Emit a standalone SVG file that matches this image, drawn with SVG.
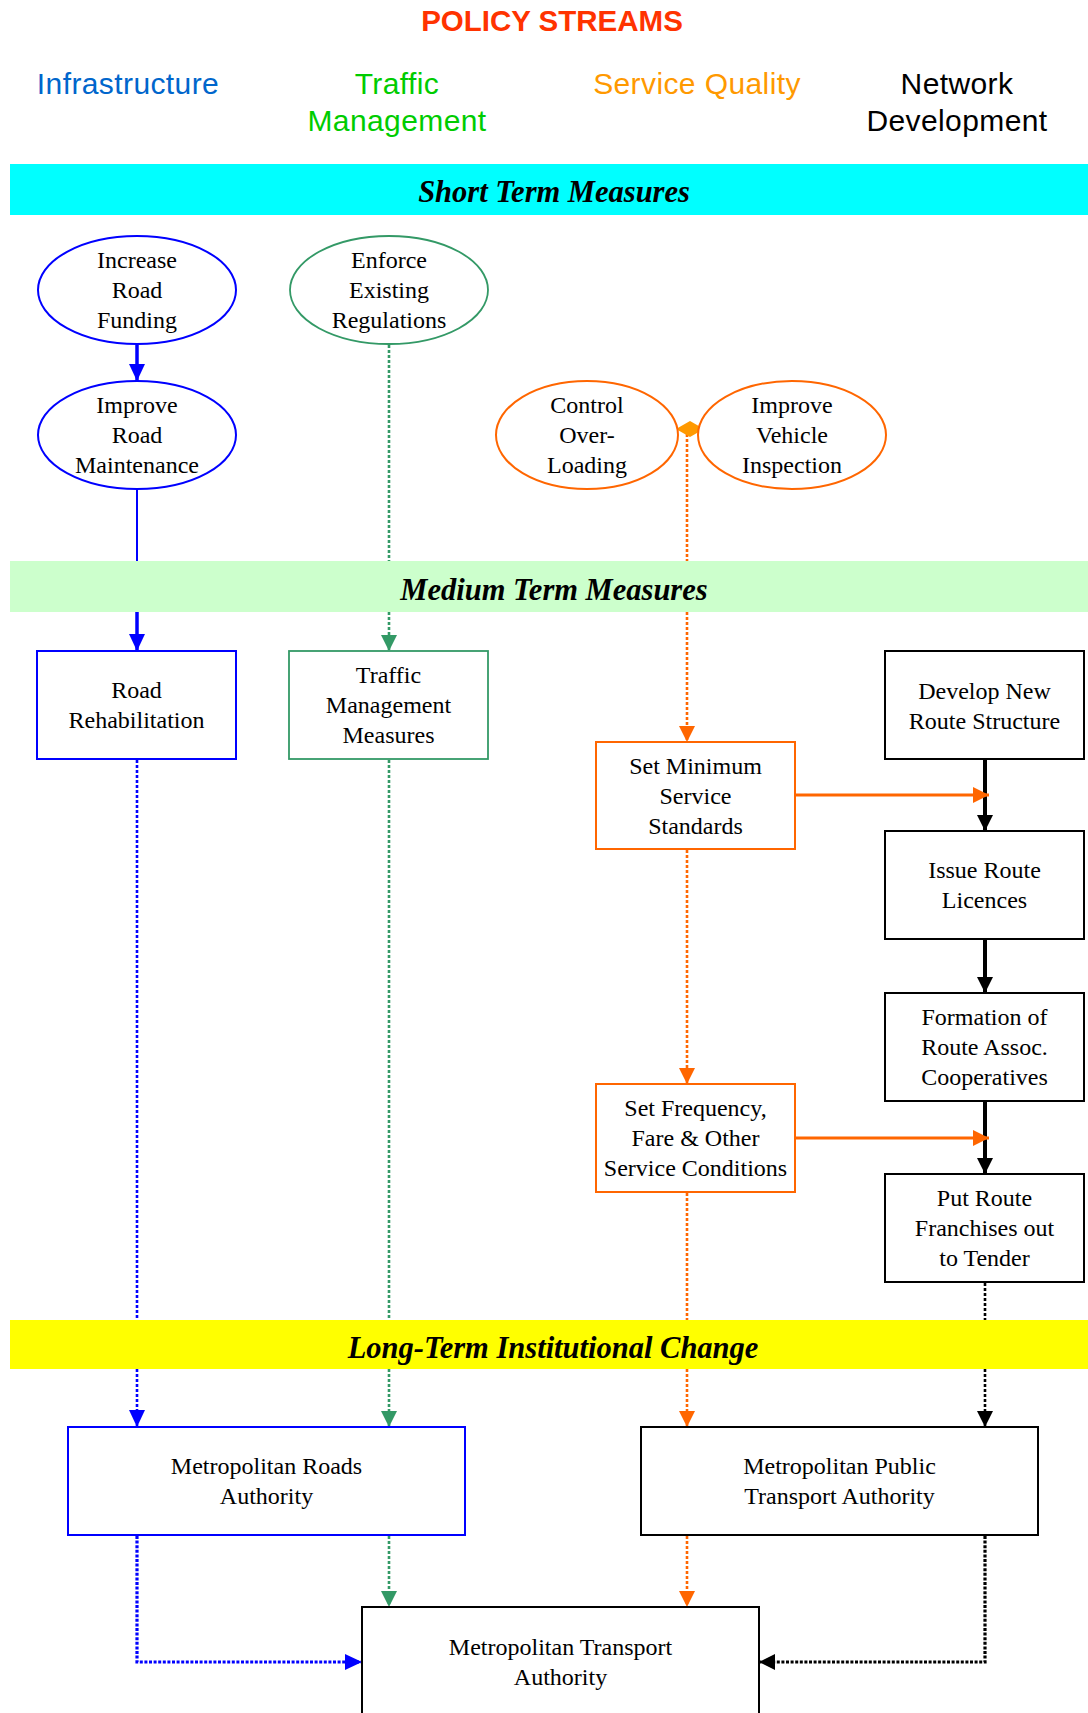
<svg xmlns="http://www.w3.org/2000/svg" width="1088" height="1713" viewBox="0 0 1088 1713">
<defs>
<style>
.title{font-family:"Liberation Sans",Arial,sans-serif;font-size:29.5px;font-weight:bold;fill:#FF3300;text-anchor:middle}
.hdr{font-family:"Liberation Sans",Arial,sans-serif;font-size:30px;text-anchor:middle;letter-spacing:0.4px}
.band{font-family:"Liberation Serif","Times New Roman",serif;font-size:30.5px;font-weight:bold;font-style:italic;text-anchor:middle;fill:#000}
.t{font-family:"Liberation Serif","Times New Roman",serif;font-size:24px;text-anchor:middle;fill:#000}
.blue{fill:#fff;stroke:#0000FF;stroke-width:2}
.green{fill:#fff;stroke:#339966;stroke-width:1.8}
.orange{fill:#fff;stroke:#FF6600;stroke-width:2}
.black{fill:#fff;stroke:#000;stroke-width:2}
.c{fill:none}
.dot{stroke-dasharray:3 2;stroke-width:2.6}
.dotb{stroke-dasharray:3 1.6;stroke-width:3.2}
.cb{stroke:#0000FF}
.cg{stroke:#339966}
.co{stroke:#FF6600}
.ck{stroke:#000}
</style>
<marker id="aBlue" markerUnits="userSpaceOnUse" markerWidth="17" markerHeight="16" viewBox="0 0 17 16" refX="17" refY="8" orient="auto"><path d="M0,0 L17,8 L0,16 Z" fill="#0000FF"/></marker>
<marker id="aGreen" markerUnits="userSpaceOnUse" markerWidth="16" markerHeight="16" viewBox="0 0 16 16" refX="16" refY="8" orient="auto"><path d="M0,0 L16,8 L0,16 Z" fill="#339966"/></marker>
<marker id="aOrange" markerUnits="userSpaceOnUse" markerWidth="16" markerHeight="16" viewBox="0 0 16 16" refX="16" refY="8" orient="auto"><path d="M0,0 L16,8 L0,16 Z" fill="#FF6600"/></marker>
<marker id="aBlack" markerUnits="userSpaceOnUse" markerWidth="16" markerHeight="16" viewBox="0 0 16 16" refX="16" refY="8" orient="auto"><path d="M0,0 L16,8 L0,16 Z" fill="#000"/></marker>
<marker id="diamond" markerUnits="userSpaceOnUse" markerWidth="30" markerHeight="18" viewBox="0 0 30 18" refX="12" refY="9" orient="0"><path d="M1,9 L15,1 L29,9 L15,17 Z" fill="#FF9900"/></marker>
</defs>
<rect width="1088" height="1713" fill="#fff"/>

<g id="title">
<text class="title" x="552" y="31">POLICY STREAMS</text>
</g>
<g id="headers">
<text class="hdr" x="128" y="94" fill="#0066CC" letter-spacing="0.9">Infrastructure</text>
<text class="hdr" x="397" y="94" fill="#00CC00">Traffic</text>
<text class="hdr" x="397" y="131" fill="#00CC00">Management</text>
<text class="hdr" x="697" y="94" fill="#FF9900">Service Quality</text>
<text class="hdr" x="957" y="94" fill="#000">Network</text>
<text class="hdr" x="957" y="131" fill="#000">Development</text>
</g>

<g id="band-short">
<rect x="10" y="164" width="1078" height="51" fill="#00FFFF"/>
<text class="band" x="554" y="202">Short Term Measures</text>
</g>
<g id="band-medium">
<rect x="10" y="561" width="1078" height="51" fill="#CCFFCC"/>
<text class="band" x="554" y="600">Medium Term Measures</text>
</g>
<g id="band-long">
<rect x="10" y="1320" width="1078" height="49" fill="#FFFF00"/>
<text class="band" x="553" y="1358">Long-Term Institutional Change</text>
</g>

<g id="connectors">
<path class="c cb" d="M137,345 V381" stroke-width="3.5" marker-end="url(#aBlue)"/>
<path class="c cb" d="M137,489 V561" stroke-width="2"/>
<path class="c cb" d="M137,612 V651" stroke-width="3.5" marker-end="url(#aBlue)"/>
<path class="c cb dot" d="M137,760 V1320"/>
<path class="c cb dot" d="M137,1369 V1427" marker-end="url(#aBlue)"/>
<path class="c cb dotb" d="M137,1536 V1662 H362" marker-end="url(#aBlue)"/>

<path class="c cg dot" d="M389,345 V561"/>
<path class="c cg dot" d="M389,612 V651" marker-end="url(#aGreen)"/>
<path class="c cg dot" d="M389,760 V1320"/>
<path class="c cg dot" d="M389,1369 V1427" marker-end="url(#aGreen)"/>
<path class="c cg dot" d="M389,1536 V1607" marker-end="url(#aGreen)"/>

<path class="c co dot" d="M687,429 V561" marker-start="url(#diamond)"/>
<path class="c co dot" d="M687,612 V742" marker-end="url(#aOrange)"/>
<path class="c co dot" d="M687,850 V1084" marker-end="url(#aOrange)"/>
<path class="c co dot" d="M687,1193 V1320"/>
<path class="c co dot" d="M687,1369 V1427" marker-end="url(#aOrange)"/>
<path class="c co dot" d="M687,1536 V1607" marker-end="url(#aOrange)"/>

<path class="c ck" d="M985,760 V831" stroke-width="4" marker-end="url(#aBlack)"/>
<path class="c ck" d="M985,940 V993" stroke-width="4" marker-end="url(#aBlack)"/>
<path class="c ck" d="M985,1102 V1174" stroke-width="4" marker-end="url(#aBlack)"/>
<path class="c ck dot" d="M985,1283 V1320"/>
<path class="c ck dot" d="M985,1369 V1427" marker-end="url(#aBlack)"/>
<path class="c ck dotb" d="M985,1536 V1662 H759" marker-end="url(#aBlack)"/>

<path class="c co" d="M795,795 H989" stroke-width="3" marker-end="url(#aOrange)"/>
<path class="c co" d="M795,1138 H989" stroke-width="3" marker-end="url(#aOrange)"/>
</g>

<g id="increase-road-funding">
<ellipse class="blue" cx="137" cy="290" rx="99" ry="54"/>
<text class="t" x="137" y="268">Increase</text>
<text class="t" x="137" y="298">Road</text>
<text class="t" x="137" y="328">Funding</text>
</g>
<g id="improve-road-maintenance">
<ellipse class="blue" cx="137" cy="435" rx="99" ry="54"/>
<text class="t" x="137" y="413">Improve</text>
<text class="t" x="137" y="443">Road</text>
<text class="t" x="137" y="473">Maintenance</text>
</g>
<g id="enforce-existing-regulations">
<ellipse class="green" cx="389" cy="290" rx="99" ry="54"/>
<text class="t" x="389" y="268">Enforce</text>
<text class="t" x="389" y="298">Existing</text>
<text class="t" x="389" y="328">Regulations</text>
</g>
<g id="control-over-loading">
<ellipse class="orange" cx="587" cy="435" rx="91" ry="54"/>
<text class="t" x="587" y="413">Control</text>
<text class="t" x="587" y="443">Over-</text>
<text class="t" x="587" y="473">Loading</text>
</g>
<g id="improve-vehicle-inspection">
<ellipse class="orange" cx="792" cy="435" rx="94" ry="54"/>
<text class="t" x="792" y="413">Improve</text>
<text class="t" x="792" y="443">Vehicle</text>
<text class="t" x="792" y="473">Inspection</text>
</g>

<g id="road-rehabilitation">
<rect class="blue" x="37" y="651" width="199" height="108"/>
<text class="t" x="136.5" y="698">Road</text>
<text class="t" x="136.5" y="728">Rehabilitation</text>
</g>
<g id="traffic-management-measures">
<rect class="green" x="289" y="651" width="199" height="108"/>
<text class="t" x="388.5" y="683">Traffic</text>
<text class="t" x="388.5" y="713">Management</text>
<text class="t" x="388.5" y="743">Measures</text>
</g>
<g id="set-minimum-service-standards">
<rect class="orange" x="596" y="742" width="199" height="107"/>
<text class="t" x="695.5" y="774">Set Minimum</text>
<text class="t" x="695.5" y="804">Service</text>
<text class="t" x="695.5" y="834">Standards</text>
</g>
<g id="develop-new-route-structure">
<rect class="black" x="885" y="651" width="199" height="108"/>
<text class="t" x="984.5" y="699">Develop New</text>
<text class="t" x="984.5" y="729">Route Structure</text>
</g>
<g id="issue-route-licences">
<rect class="black" x="885" y="831" width="199" height="108"/>
<text class="t" x="984.5" y="878">Issue Route</text>
<text class="t" x="984.5" y="908">Licences</text>
</g>
<g id="formation-route-assoc">
<rect class="black" x="885" y="993" width="199" height="108"/>
<text class="t" x="984.5" y="1025">Formation of</text>
<text class="t" x="984.5" y="1055">Route Assoc.</text>
<text class="t" x="984.5" y="1085">Cooperatives</text>
</g>
<g id="set-frequency-fare">
<rect class="orange" x="596" y="1084" width="199" height="108"/>
<text class="t" x="695.5" y="1116">Set Frequency,</text>
<text class="t" x="695.5" y="1146">Fare &amp; Other</text>
<text class="t" x="695.5" y="1176">Service Conditions</text>
</g>
<g id="put-route-franchises">
<rect class="black" x="885" y="1174" width="199" height="108"/>
<text class="t" x="984.5" y="1206">Put Route</text>
<text class="t" x="984.5" y="1236">Franchises out</text>
<text class="t" x="984.5" y="1266">to Tender</text>
</g>

<g id="metropolitan-roads-authority">
<rect class="blue" x="68" y="1427" width="397" height="108" stroke-width="2.5"/>
<text class="t" x="266.5" y="1474">Metropolitan Roads</text>
<text class="t" x="266.5" y="1504">Authority</text>
</g>
<g id="metropolitan-public-transport-authority">
<rect class="black" x="641" y="1427" width="397" height="108" stroke-width="2.5"/>
<text class="t" x="839.5" y="1474">Metropolitan Public</text>
<text class="t" x="839.5" y="1504">Transport Authority</text>
</g>
<g id="metropolitan-transport-authority">
<rect class="black" x="362" y="1607" width="397" height="115" stroke-width="2.5"/>
<text class="t" x="560.5" y="1655">Metropolitan Transport</text>
<text class="t" x="560.5" y="1685">Authority</text>
</g>
</svg>
